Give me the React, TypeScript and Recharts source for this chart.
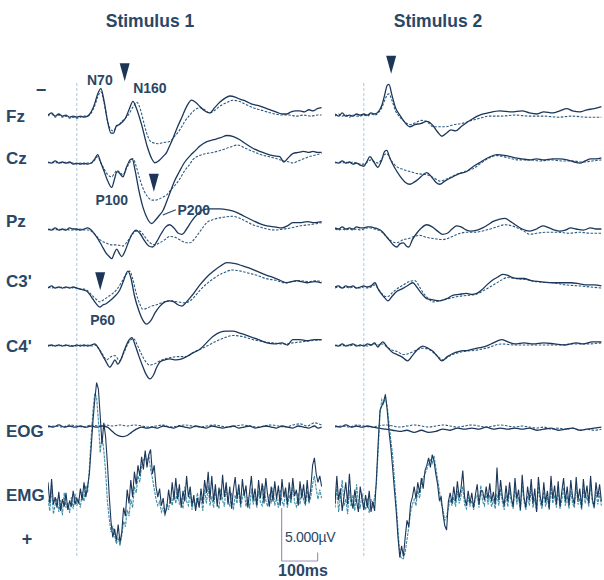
import { LineChart, Line, XAxis, YAxis, ReferenceLine, ReferenceDot } from 'recharts'

// ---- layout (pixels) ----
const PAGE_W = 604
const PAGE_H = 580
const PX_PER_MS = 0.36
const PX_PER_UV = 10.6
const STIM_X = [77, 364] // onset position of each panel
const ROW_PX: Record<string, number> = { Fz: 114, Cz: 162, Pz: 229, "C3'": 287, "C4'": 345, EOG: 426, EMG: 495 }
const LABEL_BASE: Record<string, number> = { Fz: 122, Cz: 164, Pz: 227, "C3'": 287, "C4'": 352, EOG: 437, EMG: 501 }

// ---- time ranges (ms) ----
const S1_RANGE = [-80, 680]
const S2_RANGE = [-80, 660]
const EMG_T0 = -80
const EMG_STEP = 5

const CHANNELS = ['Fz', 'Cz', 'Pz', "C3'", "C4'", 'EOG', 'EMG']

// ---- stimulus 1 : [ms, µV] (negative up), A = solid, B = dotted ----
const S1_FZ_A = [[-80,0.1],[-70,-0.1],[-60,0.2],[-50,0.0],[-40,0.2],[-30,0.1],[-20,0.3],[-10,0.2],[0,0.3],[10,0.2],[20,0.3],[30,0.2],[40,-0.2],[50,-1.0],[58,-1.9],[67,-2.4],[76,-1.2],[85,0.6],[95,1.8],[102,1.8],[110,1.1],[118,1.0],[125,0.8],[135,0.4],[145,-0.4],[156,-1.2],[165,-0.6],[180,1.0],[195,3.0],[208,4.2],[217,4.6],[228,4.4],[240,4.0],[250,3.6],[258,3.0],[267,2.3],[280,1.2],[292,0.3],[305,-0.7],[319,-1.3],[330,-1.1],[342,-0.7],[355,-0.3],[369,-0.1],[383,-0.6],[397,-1.1],[412,-1.5],[425,-1.7],[440,-1.6],[453,-1.4],[470,-1.2],[489,-0.9],[505,-0.8],[528,-0.5],[545,-0.3],[560,-0.1],[572,0.0],[583,0.0],[595,-0.2],[608,-0.3],[619,-0.3],[632,-0.2],[645,-0.4],[656,-0.3],[668,-0.5],[680,-0.6]]
const S1_FZ_B = [[-80,0.2],[-70,0.0],[-60,0.3],[-50,0.1],[-40,0.3],[-30,0.2],[-20,0.4],[-10,0.3],[0,0.4],[10,0.3],[20,0.2],[30,0.2],[40,-0.1],[50,-0.8],[58,-1.6],[67,-2.1],[76,-1.0],[85,0.6],[95,1.5],[102,1.6],[110,1.2],[118,1.0],[125,0.7],[135,0.4],[145,0.0],[155,-0.6],[167,-1.1],[177,-0.4],[186,0.8],[194,1.8],[203,2.5],[211,2.7],[225,2.8],[240,2.7],[258,2.6],[272,2.1],[286,1.5],[300,0.7],[314,0.1],[328,-0.4],[342,-0.6],[355,-0.4],[369,-0.1],[385,-0.4],[400,-0.8],[418,-1.1],[433,-1.3],[450,-1.2],[470,-0.9],[489,-0.6],[508,-0.4],[528,-0.2],[550,0.0],[572,0.1],[590,0.1],[610,0.2],[630,0.1],[650,0.2],[668,0.1],[680,0.1]]
const S1_CZ_A = [[-80,0.0],[-70,0.1],[-60,-0.1],[-50,0.1],[-40,0.0],[-30,0.1],[-20,0.0],[-10,0.2],[0,0.1],[10,0.2],[20,0.1],[30,0.2],[40,0.1],[50,-0.3],[58,-0.7],[66,0.0],[75,0.8],[86,1.8],[97,2.4],[104,1.7],[112,0.9],[120,1.1],[128,1.4],[138,0.5],[148,-0.2],[154,-0.3],[162,0.8],[172,2.6],[185,4.4],[197,5.4],[208,5.8],[218,5.5],[230,5.0],[239,4.6],[250,3.7],[260,2.8],[270,1.9],[285,0.9],[300,0.0],[315,-0.6],[330,-1.1],[342,-1.5],[360,-1.9],[380,-2.1],[400,-2.3],[417,-2.5],[435,-2.4],[453,-2.1],[470,-1.7],[489,-1.3],[508,-1.0],[525,-0.8],[545,-0.6],[564,-0.5],[575,0.0],[585,-0.3],[600,-0.8],[615,-0.9],[630,-1.0],[645,-0.9],[656,-1.0],[668,-0.9],[680,-0.9]]
const S1_CZ_B = [[-80,0.1],[-70,0.0],[-60,0.1],[-50,0.0],[-40,0.1],[-30,0.0],[-20,0.1],[-10,0.1],[0,0.2],[10,0.1],[20,0.2],[30,0.1],[40,0.1],[50,-0.2],[58,-0.5],[66,0.0],[75,0.6],[86,1.2],[97,1.4],[104,1.1],[112,0.8],[120,1.0],[128,1.2],[138,0.6],[148,0.0],[156,-0.3],[165,0.4],[175,1.6],[188,2.8],[200,3.4],[210,3.6],[217,3.6],[228,3.5],[240,3.3],[250,3.1],[262,2.6],[275,2.1],[286,1.6],[300,0.8],[314,0.2],[322,-0.2],[340,-0.6],[360,-0.8],[378,-0.9],[400,-1.1],[425,-1.4],[447,-1.6],[468,-1.3],[489,-1.0],[510,-0.7],[535,-0.5],[556,-0.3],[575,-0.1],[590,0.0],[600,0.1],[615,-0.1],[630,-0.3],[645,-0.5],[656,-0.6],[668,-0.7],[680,-0.8]]
const S1_PZ_A = [[-80,0.0],[-70,0.1],[-60,-0.1],[-50,0.1],[-40,0.0],[-30,0.1],[-20,-0.1],[-10,0.0],[0,0.0],[10,0.1],[20,0.0],[30,-0.1],[40,0.1],[50,0.5],[60,1.0],[70,1.6],[80,2.2],[90,2.6],[97,2.8],[104,2.3],[111,1.9],[118,2.3],[125,2.6],[135,2.0],[145,1.1],[155,0.4],[165,0.1],[175,0.4],[188,1.1],[200,1.6],[211,1.7],[222,1.2],[235,0.4],[247,-0.2],[258,-0.4],[270,-0.1],[282,0.4],[292,0.5],[305,0.0],[320,-0.8],[335,-1.4],[350,-1.8],[370,-1.9],[397,-1.9],[420,-1.8],[442,-1.6],[465,-1.2],[489,-0.8],[508,-0.5],[528,-0.3],[550,-0.2],[570,-0.1],[585,-0.3],[600,-0.6],[620,-0.6],[640,-0.7],[660,-0.6],[680,-0.7]]
const S1_PZ_B = [[-80,0.1],[-70,0.0],[-60,0.1],[-50,0.0],[-40,0.1],[-30,0.0],[-20,0.1],[-10,0.1],[0,0.1],[10,0.0],[20,0.1],[30,0.1],[40,0.2],[50,0.5],[64,1.0],[80,1.3],[97,1.5],[112,1.5],[128,1.6],[140,1.2],[152,0.6],[165,0.2],[175,0.2],[188,0.7],[200,1.2],[217,1.5],[230,1.3],[245,1.0],[258,0.7],[275,0.8],[290,1.1],[305,1.3],[314,1.3],[330,0.8],[345,0.1],[361,-0.6],[380,-0.9],[405,-1.1],[433,-1.2],[460,-0.9],[489,-0.4],[508,-0.2],[528,0.0],[550,0.1],[575,0.0],[595,-0.1],[620,-0.3],[645,-0.4],[665,-0.5],[680,-0.6]]
const S1_C3_A = [[-80,0.1],[-70,-0.1],[-60,0.1],[-50,0.0],[-40,0.1],[-30,0.0],[-20,0.1],[-10,0.0],[0,0.1],[10,0.2],[20,0.3],[28,0.4],[40,0.9],[52,1.5],[64,1.9],[72,1.7],[80,1.6],[92,1.3],[105,0.9],[119,0.3],[130,-0.6],[142,-1.5],[150,-0.9],[160,0.8],[172,2.2],[183,3.1],[194,3.5],[205,3.2],[218,2.4],[231,1.8],[245,1.4],[258,1.3],[270,1.4],[282,1.7],[292,1.8],[305,1.4],[320,0.8],[342,-0.2],[360,-0.9],[380,-1.5],[400,-2.0],[417,-2.3],[440,-2.2],[460,-2.0],[478,-1.8],[500,-1.5],[528,-1.1],[545,-0.9],[560,-0.7],[573,-0.5],[583,-0.4],[595,-0.5],[610,-0.6],[625,-0.5],[640,-0.4],[660,-0.5],[680,-0.4]]
const S1_C3_B = [[-80,0.0],[-70,0.1],[-60,0.0],[-50,0.1],[-40,0.0],[-30,0.1],[-20,0.0],[-10,0.1],[0,0.1],[10,0.2],[20,0.2],[28,0.3],[40,0.7],[52,1.1],[64,1.4],[75,1.2],[88,0.9],[100,0.6],[112,0.2],[125,-0.5],[137,-1.2],[147,-1.5],[155,-0.8],[165,0.6],[175,1.6],[183,2.1],[195,2.0],[208,1.8],[219,1.7],[235,1.5],[258,1.3],[280,1.4],[300,1.5],[315,1.3],[330,0.8],[345,0.2],[361,-0.3],[380,-0.8],[405,-1.3],[433,-1.6],[455,-1.5],[478,-1.3],[500,-1.1],[525,-0.8],[556,-0.6],[575,-0.4],[600,-0.5],[620,-0.6],[645,-0.5],[665,-0.6],[680,-0.5]]
const S1_C4_A = [[-80,0.1],[-70,0.0],[-60,0.1],[-50,0.0],[-40,0.1],[-30,0.0],[-20,0.1],[-10,0.1],[0,0.0],[10,0.1],[20,0.0],[30,0.1],[40,0.0],[50,-0.1],[60,0.3],[70,0.9],[80,1.5],[92,2.1],[100,1.7],[106,1.4],[114,1.8],[122,1.4],[132,0.5],[142,-0.3],[153,-0.7],[162,0.0],[172,1.0],[183,2.0],[193,2.8],[203,3.2],[212,2.9],[222,2.1],[231,1.6],[245,1.4],[258,1.3],[275,1.4],[292,1.3],[310,1.0],[325,0.7],[342,0.4],[360,-0.2],[378,-0.8],[397,-1.2],[415,-1.3],[433,-1.3],[455,-1.1],[481,-0.8],[505,-0.5],[528,-0.2],[550,-0.1],[570,-0.2],[585,0.0],[600,-0.5],[620,-0.5],[640,-0.4],[660,-0.5],[680,-0.5]]
const S1_C4_B = [[-80,0.0],[-70,0.1],[-60,0.0],[-50,0.1],[-40,0.0],[-30,0.1],[-20,0.0],[-10,0.1],[0,0.1],[10,0.0],[20,0.1],[30,0.0],[40,0.1],[50,0.0],[60,0.3],[72,0.9],[83,1.4],[95,1.1],[106,1.0],[119,1.5],[130,0.8],[145,-0.3],[158,-0.6],[168,0.0],[180,0.9],[192,1.6],[203,1.9],[215,1.8],[230,1.5],[258,1.2],[280,1.1],[300,1.1],[330,0.6],[361,0.1],[390,-0.4],[412,-0.7],[433,-0.9],[460,-0.8],[490,-0.5],[520,-0.3],[545,-0.2],[575,-0.1],[600,-0.2],[625,-0.3],[650,-0.4],[680,-0.5]]
const S1_EOG_A = [[-80,0.0],[-65,0.1],[-50,-0.1],[-35,0.1],[-20,0.0],[-5,0.1],[10,0.0],[25,0.1],[40,0.0],[55,0.1],[70,0.0],[85,0.1],[95,0.4],[105,0.7],[115,0.9],[128,1.0],[140,0.9],[152,0.6],[165,0.3],[180,0.1],[195,0.2],[210,0.1],[225,0.2],[240,0.0],[255,0.1],[270,0.2],[285,0.0],[300,0.1],[315,0.2],[330,0.0],[345,0.1],[360,0.2],[375,0.0],[390,0.1],[405,0.2],[420,0.1],[435,0.0],[450,0.2],[465,0.1],[480,0.0],[495,0.2],[510,0.1],[525,0.0],[540,0.1],[555,0.2],[570,0.0],[585,0.1],[600,0.2],[615,0.0],[630,0.1],[645,0.2],[660,0.0],[670,0.2],[680,0.1]]
const S1_EOG_B = [[-80,0.1],[-60,0.0],[-40,0.1],[-20,-0.1],[0,0.0],[20,0.1],[40,-0.1],[60,0.0],[80,-0.1],[100,0.0],[120,-0.1],[140,0.0],[160,-0.1],[180,0.0],[200,0.1],[220,0.0],[240,-0.1],[260,0.1],[280,0.0],[300,-0.1],[320,0.0],[340,0.1],[360,0.0],[380,-0.1],[400,0.0],[420,0.1],[440,0.0],[460,-0.1],[480,0.0],[500,0.1],[520,0.0],[540,-0.1],[560,0.0],[580,0.1],[600,-0.1],[620,-0.2],[640,0.0],[660,-0.3],[680,-0.1]]
// EMG sampled every 5 ms from -80 ms
const S1_EMG_A = [
  -1.2, 0.8, -1.5, 0.9, 0.2, 1.2, -0.3, 1.5, 0.4, 1.1,
  -0.2, 1.4, 0.6, 1.0, -0.4, 0.9, 0.3, 0.8, -0.6, 0.5,
  -1.2, 0.2, -0.8, -2.0, -4.5, -7.0, -9.0, -10.6, -10.0, -7.5,
  -4.8, -6.8, -5.5, -3.0, 0.0, 2.5, 4.0, 3.2, 4.3, 2.8,
  4.5, 3.5, 1.2, 2.0, -0.5, 0.8, -1.4, 0.2, -2.2, -1.0,
  -2.8, -1.8, -3.6, -2.4, -4.2, -2.6, -3.8, -4.3, -2.0, -2.8,
  -0.8, 0.2, -0.6, 1.0, 0.3, 1.8, 1.2, -0.5, 0.8, -1.2,
  0.5, -1.6, 0.4, -1.0, 1.2, -0.4, 0.6, -1.8, 0.2, -0.8,
  1.0, 0.0, 1.5, 0.3, 1.2, -0.6, 0.8, -1.4, -0.2, -2.2,
  0.4, -1.8, 0.6, -1.0, 1.1, -0.7, 0.5, -1.9, 0.2, -1.2,
  0.9, -0.8, 1.3, -0.5, -1.7, 0.4, -1.0, 0.9, -1.5, 0.1,
  -0.9, 1.2, -0.3, -1.8, 0.5, -0.6, 1.0, -1.4, 0.3, -1.1,
  0.8, -1.6, 0.0, 1.1, -0.8, 0.6, -1.3, 0.4, -0.9, 1.0,
  -1.5, 0.2, -0.7, 0.9, -1.2, 0.5, -1.6, 0.1, -0.5, 1.0,
  -1.3, 0.3, -1.0, 0.8, -1.4, 0.6, -0.6, -2.8, -3.5, -2.0,
  -1.2, -1.8, -0.8,
]
const S1_EMG_B = [
  0.4, 1.5, -0.6, 1.8, 0.9, 0.3, 1.6, 0.5, 1.9, -0.2,
  1.2, 0.7, 1.7, 0.2, 1.3, -0.1, 1.0, 0.5, 1.2, -0.3,
  0.6, -0.9, -0.2, -2.6, -5.5, -8.0, -9.6, -9.2, -7.0, -4.0,
  -5.6, -4.2, -2.2, 0.6, 2.2, 3.5, 3.0, 3.8, 4.6, 4.0,
  4.8, 3.8, 2.5, 3.0, 1.4, 2.0, 0.4, 1.2, -0.8, -0.2,
  -1.8, -1.2, -2.8, -3.2, -3.9, -3.0, -3.8, -2.4, -1.6, -0.6,
  0.4, 1.0, 0.6, 1.6, 1.2, 2.0, 0.8, 1.4, 0.2, 1.0,
  -0.4, 0.8, -0.6, 0.9, 0.3, 1.3, -0.8, 0.6, 1.0, -0.3,
  1.4, 0.4, 1.2, -0.2, 0.9, 0.2, 1.5, -0.5, 0.8, -0.9,
  1.0, 0.1, 1.2, -0.4, 0.7, 1.3, -0.6, 0.5, 1.1, -0.8,
  0.6, 1.0, -0.2, 1.4, 0.0, 0.8, -0.7, 1.2, 0.3, -0.5,
  1.1, 0.2, 1.3, -0.6, 0.9, 0.1, 1.2, -0.4, 0.7, 1.0,
  -0.9, 0.5, 1.1, -0.1, 0.8, -0.7, 1.0, 0.3, 1.2, -0.5,
  0.6, 1.0, -0.3, 1.2, 0.0, 0.8, -0.8, 0.7, 1.1, -0.2,
  0.9, -0.6, 0.5, 1.0, -0.4, 0.8, 0.2, -1.0, -1.8, -0.6,
  0.4, -0.5, 0.3,
]

// ---- stimulus 2 ----
const S2_FZ_A = [[-80,0.0],[-70,0.2],[-60,-0.1],[-50,0.2],[-40,0.1],[-30,0.2],[-20,0.0],[-10,0.1],[0,0.0],[10,0.1],[20,-0.1],[30,0.0],[40,-0.2],[50,-0.8],[58,-1.8],[65,-2.7],[70,-2.8],[78,-1.8],[88,-0.6],[100,0.1],[112,0.7],[128,1.2],[142,1.0],[158,0.9],[175,0.7],[190,1.0],[205,1.7],[217,2.1],[230,1.8],[242,1.5],[255,1.6],[270,1.2],[286,0.8],[305,0.4],[322,0.1],[345,-0.1],[378,-0.3],[410,-0.2],[440,-0.3],[460,-0.1],[481,0.0],[500,-0.2],[525,-0.1],[545,-0.3],[564,-0.5],[580,-0.3],[600,-0.2],[620,-0.4],[640,-0.5],[660,-0.7]]
const S2_FZ_B = [[-80,0.2],[-70,0.0],[-60,0.2],[-50,0.1],[-40,0.3],[-30,0.1],[-20,0.2],[-10,0.2],[0,0.1],[10,0.2],[20,0.0],[30,0.1],[40,-0.1],[50,-0.6],[58,-1.3],[65,-1.8],[70,-1.9],[78,-1.3],[88,-0.3],[100,0.3],[112,0.7],[128,1.0],[145,0.8],[160,0.6],[175,0.7],[192,1.2],[210,1.2],[228,1.2],[250,1.0],[272,0.9],[300,0.6],[322,0.4],[350,0.2],[380,0.2],[420,0.1],[460,0.2],[500,0.2],[540,0.3],[580,0.2],[620,0.3],[660,0.3]]
const S2_CZ_A = [[-80,0.0],[-70,0.1],[-60,-0.1],[-50,0.1],[-40,0.0],[-30,0.2],[-20,0.1],[-10,0.3],[0,0.4],[8,0.0],[17,-0.5],[28,0.0],[39,0.5],[50,-0.2],[58,-1.0],[64,-1.1],[72,-0.4],[85,0.5],[100,1.3],[115,1.9],[128,2.1],[140,1.9],[152,1.6],[165,1.2],[175,1.0],[188,1.4],[200,1.9],[211,2.1],[225,1.8],[247,1.4],[265,1.1],[286,0.9],[305,0.4],[325,0.0],[345,-0.4],[369,-0.7],[395,-0.6],[420,-0.4],[440,-0.3],[461,-0.2],[480,-0.3],[500,-0.2],[525,-0.3],[545,-0.3],[565,-0.2],[585,0.0],[600,0.1],[615,-0.1],[630,-0.3],[645,-0.3],[660,-0.4]]
const S2_CZ_B = [[-80,0.1],[-70,0.0],[-60,0.1],[-50,0.0],[-40,0.1],[-30,0.0],[-20,0.1],[-10,0.2],[0,0.2],[10,0.0],[20,-0.2],[30,0.0],[40,0.1],[50,-0.3],[58,-0.7],[64,-0.8],[75,-0.2],[90,0.4],[110,0.7],[128,0.9],[150,1.1],[175,1.2],[195,1.5],[211,1.8],[230,1.6],[255,1.2],[280,0.9],[305,0.6],[330,0.0],[350,-0.4],[372,-0.6],[400,-0.4],[430,-0.2],[460,-0.2],[490,-0.1],[520,-0.2],[550,-0.1],[580,-0.1],[610,0.0],[635,-0.1],[660,-0.2]]
const S2_PZ_A = [[-80,-0.1],[-70,0.0],[-60,-0.2],[-50,0.0],[-40,-0.1],[-30,0.0],[-20,-0.2],[-10,-0.1],[0,-0.1],[10,-0.2],[20,-0.2],[30,-0.1],[40,0.0],[50,0.2],[60,0.6],[72,1.1],[82,1.5],[92,1.7],[100,1.4],[110,1.3],[118,1.6],[125,1.7],[135,1.0],[147,0.4],[160,-0.1],[175,-0.4],[190,-0.2],[205,0.2],[219,0.5],[232,0.4],[245,0.0],[258,-0.3],[270,-0.2],[285,0.1],[297,0.2],[315,0.1],[330,-0.1],[345,-0.4],[358,-0.7],[375,-0.9],[392,-1.0],[408,-0.7],[425,-0.3],[440,0.0],[461,0.2],[480,0.0],[497,-0.3],[515,-0.1],[530,0.1],[544,0.2],[560,0.1],[575,-0.1],[590,0.0],[610,0.1],[630,-0.1],[645,0.0],[660,0.0]]
const S2_PZ_B = [[-80,0.0],[-70,0.1],[-60,0.0],[-50,0.1],[-40,0.0],[-30,0.1],[-20,0.0],[-10,0.1],[0,0.0],[10,-0.1],[20,-0.1],[30,0.0],[40,0.1],[50,0.3],[62,0.7],[75,1.1],[92,1.3],[110,1.0],[125,0.9],[140,0.7],[156,0.6],[175,0.8],[195,0.9],[219,1.0],[240,0.8],[260,0.5],[285,0.3],[310,0.3],[340,0.1],[370,-0.2],[392,-0.4],[420,-0.2],[445,0.2],[461,0.5],[480,0.4],[510,0.3],[540,0.3],[570,0.4],[600,0.3],[630,0.4],[660,0.4]]
const S2_C3_A = [[-80,0.0],[-70,-0.1],[-60,0.1],[-50,-0.1],[-40,0.0],[-30,-0.1],[-20,0.1],[-10,0.0],[0,-0.1],[10,0.0],[20,-0.1],[31,-0.4],[40,0.2],[50,0.7],[60,1.1],[67,1.3],[78,0.9],[92,0.4],[105,0.2],[120,-0.1],[136,-0.4],[147,0.0],[158,0.5],[168,0.9],[175,1.1],[190,1.2],[211,1.3],[230,1.1],[247,0.8],[265,0.7],[285,0.6],[300,0.7],[314,0.6],[330,0.2],[342,-0.2],[360,-0.7],[375,-1.0],[386,-1.2],[400,-1.1],[412,-0.9],[425,-0.8],[445,-0.8],[465,-0.6],[490,-0.5],[525,-0.4],[550,-0.4],[575,-0.4],[600,-0.3],[620,-0.2],[640,-0.2],[660,-0.1]]
const S2_C3_B = [[-80,0.1],[-70,0.0],[-60,0.1],[-50,0.0],[-40,0.1],[-30,0.0],[-20,0.1],[-10,0.1],[0,0.0],[10,0.1],[20,0.0],[31,-0.2],[40,0.2],[50,0.6],[60,0.9],[67,0.9],[80,0.5],[95,0.1],[110,-0.2],[125,-0.5],[142,-0.6],[155,0.0],[168,0.7],[180,1.1],[192,1.4],[210,1.3],[235,1.1],[260,0.9],[285,0.8],[310,0.7],[340,0.2],[365,-0.3],[385,-0.7],[397,-0.9],[420,-0.8],[450,-0.7],[480,-0.5],[525,-0.4],[560,-0.2],[600,-0.1],[630,0.0],[660,0.1]]
const S2_C4_A = [[-80,0.0],[-70,0.1],[-60,-0.1],[-50,0.1],[-40,0.0],[-30,-0.1],[-20,0.1],[-10,0.0],[0,0.1],[10,-0.1],[20,0.0],[30,-0.2],[39,0.2],[46,-0.1],[53,-0.3],[65,0.2],[80,0.7],[92,0.9],[105,1.1],[122,1.5],[135,1.0],[150,0.4],[164,0.1],[178,0.3],[192,0.6],[205,1.1],[217,1.5],[232,1.1],[247,0.8],[265,0.6],[290,0.5],[315,0.3],[340,0.1],[360,-0.2],[383,-0.5],[400,-0.3],[420,-0.1],[445,-0.2],[470,-0.1],[500,-0.2],[530,-0.1],[560,0.0],[590,-0.2],[610,-0.1],[635,-0.3],[660,-0.3]]
const S2_C4_B = [[-80,0.1],[-70,0.0],[-60,0.1],[-50,0.0],[-40,0.1],[-30,0.0],[-20,0.0],[-10,0.1],[0,0.0],[10,0.1],[20,0.0],[30,-0.1],[40,0.0],[53,-0.1],[65,0.2],[80,0.5],[92,0.6],[110,0.9],[125,0.8],[145,0.5],[164,0.3],[180,0.4],[200,0.9],[220,1.4],[235,1.1],[255,0.8],[280,0.6],[310,0.5],[340,0.3],[383,-0.1],[420,0.0],[460,0.0],[500,0.0],[540,0.0],[580,-0.1],[620,-0.1],[660,-0.2]]
const S2_EOG_A = [[-80,0.0],[-65,0.1],[-50,-0.1],[-35,0.1],[-20,0.0],[-5,0.1],[10,0.0],[25,0.1],[40,0.2],[60,0.3],[80,0.4],[100,0.5],[120,0.4],[140,0.6],[160,0.4],[180,0.6],[200,0.5],[220,0.3],[240,0.4],[260,0.2],[280,0.3],[300,0.2],[320,0.3],[340,0.1],[360,0.3],[380,0.2],[400,0.3],[420,0.2],[440,0.3],[460,0.2],[480,0.4],[500,0.3],[520,0.2],[540,0.4],[560,0.3],[580,0.2],[600,0.4],[620,0.3],[640,0.2],[660,0.1]]
const S2_EOG_B = [[-80,0.1],[-60,0.0],[-40,0.1],[-20,-0.1],[0,0.0],[20,0.1],[40,0.0],[60,-0.1],[80,0.0],[100,0.1],[120,0.0],[140,-0.1],[160,0.0],[180,0.1],[200,0.0],[220,-0.1],[240,0.0],[260,0.1],[280,0.0],[300,-0.1],[320,0.0],[340,0.1],[360,0.0],[380,-0.1],[400,0.0],[420,0.1],[440,0.0],[460,0.1],[480,0.2],[500,0.1],[520,0.3],[540,0.2],[560,0.3],[580,0.2],[600,0.4],[620,0.3],[640,0.4],[660,0.3]]
const S2_EMG_A = [
  0.8, -1.8, 0.5, -0.6, 1.5, 0.2, -1.2, 0.9, -2.0, 0.4,
  1.3, -0.5, 0.6, 1.6, -0.8, 0.3, 1.4, 0.0, 1.2, -0.4,
  1.6, 0.6, 1.5, -1.5, -5.0, -8.0, -8.4, -8.8, -9.5, -8.0,
  -6.0, -4.5, -2.6, -0.5, 1.5, 4.0, 5.9, 4.8, 5.8, 4.0,
  2.4, 3.0, 0.8, 0.2, -0.8, 0.4, -1.2, -0.2, -1.6, -0.6,
  -2.3, -2.8, -3.5, -2.6, -3.8, -3.2, -2.0, -1.0, 0.5, 0.2,
  1.8, 2.9, 3.3, 0.6, -0.2, 0.8, -0.8, 0.6, -1.3, 0.3,
  -0.6, -2.3, 0.2, 1.0, -0.4, 0.8, -0.2, 1.2, 0.0, -1.0,
  0.9, -0.4, -0.4, 0.5, -0.8, 0.4, -1.1, 0.6, -0.3, 0.9,
  -2.6, 0.5, -1.4, 0.2, 1.0, -0.9, 0.6, -1.2, 0.3, 1.1,
  -1.6, 0.4, -0.5, 1.4, -1.9, 0.2, 1.2, -0.8, 0.5, -1.5,
  0.8, -0.6, 1.6, -1.7, 0.1, 1.0, -1.2, 0.7, -0.4, 1.3,
  -1.8, 0.4, -0.9, 0.9, -1.3, 1.1, -0.3, -1.6, 0.6, -0.8,
  1.0, -1.4, 0.2, 0.9, -1.7, 0.5, -0.6, 1.2, -1.5, 0.3,
  -0.9, 0.8, -1.8, 0.4, 1.1, -1.2, 0.2, -1.0, 0.6,
]
const S2_EMG_B = [
  1.2, -0.8, 1.6, 0.2, -1.4, 1.0, 0.4, 1.8, -0.5, 1.1,
  0.0, 1.5, -1.0, 0.8, 1.3, -0.2, 0.9, 1.4, 0.3, 1.7,
  0.4, 1.2, 0.2, -1.0, -4.2, -7.6, -9.0, -8.6, -9.2, -8.4,
  -6.8, -5.2, -3.8, -1.5, 0.8, 3.2, 5.6, 6.0, 6.0, 5.4,
  4.2, 3.0, 1.6, 0.9, 0.4, 1.0, -0.4, 0.3, -1.2, -1.6,
  -2.0, -2.4, -3.0, -3.4, -3.0, -3.7, -2.6, -1.5, -0.4, 0.8,
  1.4, 2.4, 2.0, 1.2, 0.4, 1.0, 0.2, 1.1, -0.4, 0.8,
  0.1, -0.8, 0.9, 1.3, 0.2, 1.0, 0.5, 1.4, 0.3, 0.0,
  1.2, -0.9, 0.6, 1.0, -0.2, 0.9, 0.0, 1.1, 0.4, 1.3,
  -0.1, 1.0, -0.6, 0.7, 1.4, 0.0, 1.1, -0.5, 0.8, 1.3,
  -0.8, 0.9, 0.2, 1.5, -0.9, 0.6, 1.4, 0.1, 1.0, -0.7,
  1.2, 0.3, 1.6, -0.8, 0.7, 1.3, -0.3, 1.1, 0.2, 1.4,
  -0.9, 0.8, 0.0, 1.2, -0.5, 1.3, 0.5, -0.7, 1.0, 0.1,
  1.3, -0.4, 0.8, 1.2, -0.9, 0.9, 0.3, 1.4, -0.6, 0.8,
  0.0, 1.1, -1.0, 0.7, 1.3, -0.3, 0.9, -0.2, 1.0,
]

// component labels: [text, ms, µV from row baseline, row]
const S1_NOTES: [string, number, number, string][] = [
  ['N70', 64, -3.2, 'Fz'],
  ['N160', 203, -2.45, 'Fz'],
  ['P100', 97, 3.6, 'Cz'],
  ['P200', 325, 4.5, 'Cz'],
  ['P60', 72, 3.1, "C3'"],
]
// arrowheads: [ms, µV of the tip, row]
const S1_ARROWS: [number, number, string][] = [
  [133, -3.1, 'Fz'],
  [214, 2.8, 'Cz'],
  [65, 0.3, "C3'"],
]
const S2_ARROWS: [number, number, string][] = [[76, -3.8, 'Fz']]

const rowUv = (ch: string) => ROW_PX[ch] / PX_PER_UV
const trace = (pts: number[][], ch: string) => pts.map(([t, v]) => ({ t, y: rowUv(ch) + v }))
const sampled = (vals: number[], ch: string) => vals.map((v, i) => ({ t: EMG_T0 + i * EMG_STEP, y: rowUv(ch) + v }))

type Kind = 'solid' | 'dash' | 'emgSolid' | 'emgDash'
type Trace = { key: string; kind: Kind; data: { t: number; y: number }[] }

const LINE_STYLE: Record<Kind, { stroke: string; width: number; dash?: string; curve: 'monotone' | 'linear' }> = {
  solid: { stroke: '#1c375a', width: 1.3, curve: 'monotone' },
  dash: { stroke: '#2b5a80', width: 1.1, dash: '2.5 1.5', curve: 'monotone' },
  emgSolid: { stroke: '#1c375a', width: 1.1, curve: 'linear' },
  emgDash: { stroke: '#3d8fa8', width: 1.1, dash: '3 1', curve: 'linear' },
}

function buildTraces(eeg: [string, number[][], number[][]][], emgA: number[], emgB: number[]): Trace[] {
  const out: Trace[] = []
  eeg.forEach(([ch, a, b]) => {
    out.push({ key: ch + '-b', kind: 'dash', data: trace(b, ch) })
    out.push({ key: ch + '-a', kind: 'solid', data: trace(a, ch) })
  })
  out.push({ key: 'EMG-b', kind: 'emgDash', data: sampled(emgB, 'EMG') })
  out.push({ key: 'EMG-a', kind: 'emgSolid', data: sampled(emgA, 'EMG') })
  return out
}

const S1_TRACES = buildTraces(
  [['Fz', S1_FZ_A, S1_FZ_B], ['Cz', S1_CZ_A, S1_CZ_B], ['Pz', S1_PZ_A, S1_PZ_B], ["C3'", S1_C3_A, S1_C3_B], ["C4'", S1_C4_A, S1_C4_B], ['EOG', S1_EOG_A, S1_EOG_B]],
  S1_EMG_A, S1_EMG_B,
)
const S2_TRACES = buildTraces(
  [['Fz', S2_FZ_A, S2_FZ_B], ['Cz', S2_CZ_A, S2_CZ_B], ['Pz', S2_PZ_A, S2_PZ_B], ["C3'", S2_C3_A, S2_C3_B], ["C4'", S2_C4_A, S2_C4_B], ['EOG', S2_EOG_A, S2_EOG_B]],
  S2_EMG_A, S2_EMG_B,
)

// scale bar: 100 ms x 5 µV, corner under the left panel's EMG
const BAR_T = 569
const BAR_MS = 100
const BAR_UV = 5
const BAR_BASE = 561 / PX_PER_UV

const INK = '#2a4766'
const FONT = '"Liberation Sans", Arial, sans-serif'

const Arrowhead = (p: any) => (
  <polygon points={`${p.cx - 5},${p.cy - 18} ${p.cx + 5},${p.cy - 18} ${p.cx},${p.cy}`} fill="#1d3658" />
)

function Panel({ stimX, range, traces, arrows, notes, scaleBar }: {
  stimX: number
  range: number[]
  traces: Trace[]
  arrows: [number, number, string][]
  notes: [string, number, number, string][]
  scaleBar?: boolean
}) {
  const width = (range[1] - range[0]) * PX_PER_MS
  const yMax = PAGE_H / PX_PER_UV
  return (
    <div style={{ position: 'absolute', left: stimX + range[0] * PX_PER_MS, top: 0 }}>
      <LineChart width={width} height={PAGE_H} margin={{ top: 0, right: 0, bottom: 0, left: 0 }}>
        <XAxis type="number" dataKey="t" domain={range} hide />
        <YAxis type="number" domain={[0, yMax]} reversed hide />
        <ReferenceLine
          segment={[{ x: 0, y: 83 / PX_PER_UV }, { x: 0, y: 558 / PX_PER_UV }]}
          stroke="#a9c6de"
          strokeDasharray="3 2"
          strokeWidth={1}
        />
        {traces.map((tr) => {
          const s = LINE_STYLE[tr.kind]
          return (
            <Line
              key={tr.key}
              data={tr.data}
              dataKey="y"
              type={s.curve}
              stroke={s.stroke}
              strokeWidth={s.width}
              strokeDasharray={s.dash}
              dot={false}
              activeDot={false}
              isAnimationActive={false}
            />
          )
        })}
        {arrows.map(([t, v, ch], i) => (
          <ReferenceDot key={'a' + i} x={t} y={rowUv(ch) + v} r={0} shape={Arrowhead} />
        ))}
        {notes.map(([text, t, v, ch]) => (
          <ReferenceDot
            key={text}
            x={t}
            y={rowUv(ch) + v}
            r={0}
            shape={(p: any) => (
              <text x={p.cx} y={p.cy + 5} textAnchor="middle" fontFamily={FONT} fontWeight="bold" fontSize={14} fill={INK}>
                {text}
              </text>
            )}
          />
        ))}
        {notes.some((n) => n[0] === 'P200') && (
          <ReferenceLine segment={[{ x: 239, y: rowUv('Cz') + 5.0 }, { x: 275, y: rowUv('Cz') + 4.5 }]} stroke={INK} strokeWidth={1.2} />
        )}
        {scaleBar && (
          <ReferenceLine segment={[{ x: BAR_T, y: BAR_BASE - BAR_UV }, { x: BAR_T, y: BAR_BASE }]} stroke="#9896bf" strokeWidth={1.2} />
        )}
        {scaleBar && (
          <ReferenceLine segment={[{ x: BAR_T, y: BAR_BASE }, { x: BAR_T + BAR_MS, y: BAR_BASE }]} stroke="#9896bf" strokeWidth={1.2} />
        )}
        {scaleBar && (
          <ReferenceLine segment={[{ x: BAR_T + BAR_MS, y: BAR_BASE - 0.8 }, { x: BAR_T + BAR_MS, y: BAR_BASE }]} stroke="#9896bf" strokeWidth={1.2} />
        )}
      </LineChart>
    </div>
  )
}

export default function App() {
  return (
    <div style={{ position: 'absolute', left: 0, top: 0, width: PAGE_W, height: PAGE_H, background: '#fff', overflow: 'hidden' }}>
      <Panel stimX={STIM_X[0]} range={S1_RANGE} traces={S1_TRACES} arrows={S1_ARROWS} notes={S1_NOTES} scaleBar />
      <Panel stimX={STIM_X[1]} range={S2_RANGE} traces={S2_TRACES} arrows={S2_ARROWS} notes={[]} />
      <svg width={PAGE_W} height={PAGE_H} style={{ position: 'absolute', left: 0, top: 0, pointerEvents: 'none' }} fontFamily={FONT} fill={INK}>
        <text x={150} y={27} textAnchor="middle" fontSize={17.5} fontWeight="bold">Stimulus 1</text>
        <text x={438} y={27} textAnchor="middle" fontSize={17.5} fontWeight="bold">Stimulus 2</text>
        {CHANNELS.map((ch) => (
          <text key={ch} x={6} y={LABEL_BASE[ch]} fontSize={17} fontWeight="bold">{ch}</text>
        ))}
        <text x={41} y={96} textAnchor="middle" fontSize={18} fontWeight="bold">−</text>
        <text x={27} y={545} textAnchor="middle" fontSize={18} fontWeight="bold">+</text>
        <text x={285} y={542} fontSize={14} letterSpacing={-0.3}>5.000µV</text>
        <text x={303} y={576} textAnchor="middle" fontSize={16} fontWeight="bold">100ms</text>
      </svg>
    </div>
  )
}
